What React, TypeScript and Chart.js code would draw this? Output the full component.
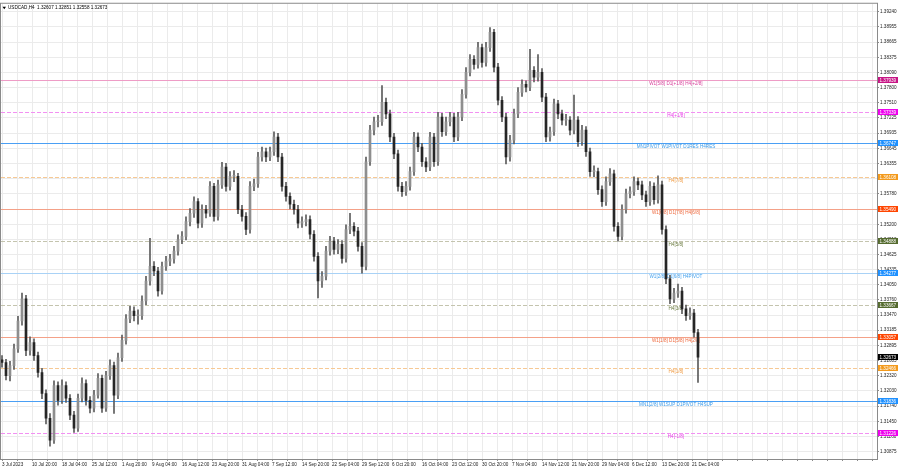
import React, { useEffect, useRef } from "react";
import { Chart, registerables } from "chart.js";

Chart.register(...registerables);

// ---------- DATA (USDCAD, H4; one candle ≈ 4 H4 bars) ----------
const openPrices = [
  1.3262, 1.3257, 1.3232, 1.3251, 1.3283, 1.3336, 1.3378, 1.3280, 1.3295, 1.3270,
  1.3238, 1.3198, 1.3151, 1.3109, 1.3213, 1.3185, 1.3213, 1.3189, 1.3157, 1.3132,
  1.3189, 1.3217, 1.3185, 1.3170, 1.3195, 1.3227, 1.3170, 1.3232, 1.3251, 1.3195,
  1.3266, 1.3299, 1.3340, 1.3355, 1.3346, 1.3346, 1.3374, 1.3412, 1.3440, 1.3431,
  1.3393, 1.3440, 1.3450, 1.3454, 1.3469, 1.3491, 1.3497, 1.3525, 1.3541, 1.3563,
  1.3522, 1.3548, 1.3541, 1.3592, 1.3535, 1.3595, 1.3629, 1.3592, 1.3611, 1.3611,
  1.3548, 1.3535, 1.3510, 1.3592, 1.3597, 1.3648, 1.3658, 1.3648, 1.3658, 1.3686,
  1.3648, 1.3592, 1.3573, 1.3558, 1.3548, 1.3522, 1.3525, 1.3529, 1.3501, 1.3459,
  1.3412, 1.3421, 1.3469, 1.3488, 1.3472, 1.3482, 1.3455, 1.3510, 1.3516, 1.3507,
  1.3478, 1.3440, 1.3639, 1.3699, 1.3715, 1.3715, 1.3752, 1.3730, 1.3686, 1.3654,
  1.3592, 1.3582, 1.3592, 1.3620, 1.3686, 1.3667, 1.3639, 1.3629, 1.3686, 1.3639,
  1.3724, 1.3696, 1.3715, 1.3724, 1.3686, 1.3724, 1.3767, 1.3809, 1.3834, 1.3824,
  1.3856, 1.3828, 1.3856, 1.3885, 1.3819, 1.3756, 1.3724, 1.3648, 1.3680, 1.3730,
  1.3771, 1.3786, 1.3781, 1.3813, 1.3800, 1.3809, 1.3762, 1.3686, 1.3696, 1.3749,
  1.3730, 1.3718, 1.3718, 1.3699, 1.3718, 1.3677, 1.3699, 1.3658, 1.3620, 1.3620,
  1.3586, 1.3563, 1.3601, 1.3616, 1.3516, 1.3497, 1.3548, 1.3578, 1.3582, 1.3601,
  1.3595, 1.3576, 1.3563, 1.3592, 1.3567, 1.3595, 1.3510, 1.3416, 1.3378, 1.3389,
  1.3393, 1.3359, 1.3346, 1.3351, 1.3314,
];

const highPrices = [
  1.3270, 1.3263, 1.3259, 1.3292, 1.3345, 1.3389, 1.3385, 1.3306, 1.3302, 1.3277,
  1.3246, 1.3205, 1.3160, 1.3222, 1.3220, 1.3224, 1.3220, 1.3196, 1.3164, 1.3197,
  1.3228, 1.3224, 1.3192, 1.3204, 1.3236, 1.3233, 1.3240, 1.3262, 1.3258, 1.3275,
  1.3309, 1.3348, 1.3364, 1.3363, 1.3357, 1.3384, 1.3421, 1.3493, 1.3449, 1.3438,
  1.3448, 1.3459, 1.3463, 1.3478, 1.3500, 1.3506, 1.3534, 1.3550, 1.3572, 1.3569,
  1.3557, 1.3556, 1.3601, 1.3598, 1.3604, 1.3638, 1.3636, 1.3620, 1.3622, 1.3617,
  1.3556, 1.3542, 1.3601, 1.3606, 1.3657, 1.3667, 1.3665, 1.3667, 1.3696, 1.3693,
  1.3655, 1.3600, 1.3580, 1.3566, 1.3556, 1.3534, 1.3538, 1.3536, 1.3508, 1.3466,
  1.3430, 1.3478, 1.3497, 1.3495, 1.3491, 1.3489, 1.3519, 1.3541, 1.3523, 1.3514,
  1.3485, 1.3648, 1.3708, 1.3724, 1.3727, 1.3784, 1.3760, 1.3737, 1.3693, 1.3661,
  1.3600, 1.3601, 1.3629, 1.3695, 1.3694, 1.3674, 1.3647, 1.3695, 1.3693, 1.3733,
  1.3731, 1.3724, 1.3733, 1.3731, 1.3733, 1.3776, 1.3818, 1.3843, 1.3841, 1.3866,
  1.3863, 1.3866, 1.3894, 1.3891, 1.3826, 1.3763, 1.3731, 1.3689, 1.3739, 1.3780,
  1.3795, 1.3793, 1.3853, 1.3820, 1.3843, 1.3816, 1.3769, 1.3705, 1.3758, 1.3756,
  1.3737, 1.3729, 1.3725, 1.3766, 1.3725, 1.3708, 1.3706, 1.3665, 1.3631, 1.3627,
  1.3593, 1.3610, 1.3626, 1.3623, 1.3523, 1.3557, 1.3587, 1.3591, 1.3610, 1.3608,
  1.3602, 1.3583, 1.3601, 1.3599, 1.3612, 1.3602, 1.3517, 1.3423, 1.3398, 1.3406,
  1.3400, 1.3366, 1.3361, 1.3358, 1.3320,
];

const lowPrices = [
  1.3248, 1.3224, 1.3222, 1.3244, 1.3276, 1.3328, 1.3270, 1.3271, 1.3261, 1.3229,
  1.3188, 1.3140, 1.3098, 1.3103, 1.3176, 1.3179, 1.3181, 1.3148, 1.3124, 1.3126,
  1.3182, 1.3176, 1.3161, 1.3163, 1.3189, 1.3162, 1.3164, 1.3225, 1.3160, 1.3188,
  1.3259, 1.3292, 1.3333, 1.3336, 1.3330, 1.3339, 1.3367, 1.3404, 1.3422, 1.3383,
  1.3387, 1.3432, 1.3441, 1.3446, 1.3461, 1.3483, 1.3490, 1.3517, 1.3533, 1.3513,
  1.3514, 1.3532, 1.3535, 1.3526, 1.3528, 1.3588, 1.3583, 1.3585, 1.3601, 1.3540,
  1.3526, 1.3500, 1.3503, 1.3584, 1.3590, 1.3640, 1.3639, 1.3641, 1.3651, 1.3639,
  1.3583, 1.3564, 1.3549, 1.3539, 1.3513, 1.3514, 1.3517, 1.3492, 1.3450, 1.3380,
  1.3400, 1.3414, 1.3461, 1.3463, 1.3464, 1.3446, 1.3448, 1.3502, 1.3498, 1.3469,
  1.3427, 1.3433, 1.3632, 1.3690, 1.3705, 1.3708, 1.3721, 1.3677, 1.3645, 1.3583,
  1.3573, 1.3575, 1.3585, 1.3613, 1.3658, 1.3630, 1.3620, 1.3622, 1.3630, 1.3632,
  1.3687, 1.3689, 1.3707, 1.3677, 1.3679, 1.3717, 1.3760, 1.3802, 1.3815, 1.3817,
  1.3819, 1.3821, 1.3849, 1.3810, 1.3747, 1.3715, 1.3635, 1.3640, 1.3673, 1.3723,
  1.3763, 1.3772, 1.3774, 1.3791, 1.3792, 1.3753, 1.3677, 1.3678, 1.3689, 1.3721,
  1.3709, 1.3708, 1.3690, 1.3692, 1.3668, 1.3670, 1.3649, 1.3611, 1.3610, 1.3577,
  1.3554, 1.3556, 1.3594, 1.3507, 1.3488, 1.3490, 1.3541, 1.3570, 1.3575, 1.3586,
  1.3567, 1.3554, 1.3556, 1.3558, 1.3560, 1.3501, 1.3407, 1.3369, 1.3371, 1.3381,
  1.3350, 1.3337, 1.3339, 1.3305, 1.3219,
];

const closePrices = [
  1.3257, 1.3232, 1.3251, 1.3283, 1.3336, 1.3378, 1.3280, 1.3295, 1.3270, 1.3238,
  1.3198, 1.3151, 1.3109, 1.3213, 1.3185, 1.3213, 1.3189, 1.3157, 1.3132, 1.3189,
  1.3217, 1.3185, 1.3170, 1.3195, 1.3227, 1.3170, 1.3232, 1.3251, 1.3195, 1.3266,
  1.3299, 1.3340, 1.3355, 1.3346, 1.3346, 1.3374, 1.3412, 1.3440, 1.3431, 1.3393,
  1.3440, 1.3450, 1.3454, 1.3469, 1.3491, 1.3497, 1.3525, 1.3541, 1.3563, 1.3522,
  1.3548, 1.3541, 1.3592, 1.3535, 1.3595, 1.3629, 1.3592, 1.3611, 1.3611, 1.3548,
  1.3535, 1.3510, 1.3592, 1.3597, 1.3648, 1.3658, 1.3648, 1.3658, 1.3686, 1.3648,
  1.3592, 1.3573, 1.3558, 1.3548, 1.3522, 1.3525, 1.3529, 1.3501, 1.3459, 1.3412,
  1.3421, 1.3469, 1.3488, 1.3472, 1.3482, 1.3455, 1.3510, 1.3516, 1.3507, 1.3478,
  1.3440, 1.3639, 1.3699, 1.3715, 1.3715, 1.3752, 1.3730, 1.3686, 1.3654, 1.3592,
  1.3582, 1.3592, 1.3620, 1.3686, 1.3667, 1.3639, 1.3629, 1.3686, 1.3639, 1.3724,
  1.3696, 1.3715, 1.3724, 1.3686, 1.3724, 1.3767, 1.3809, 1.3834, 1.3824, 1.3856,
  1.3828, 1.3856, 1.3885, 1.3819, 1.3756, 1.3724, 1.3648, 1.3680, 1.3730, 1.3771,
  1.3786, 1.3781, 1.3813, 1.3800, 1.3809, 1.3762, 1.3686, 1.3696, 1.3749, 1.3730,
  1.3718, 1.3718, 1.3699, 1.3718, 1.3677, 1.3699, 1.3658, 1.3620, 1.3620, 1.3586,
  1.3563, 1.3601, 1.3616, 1.3516, 1.3497, 1.3548, 1.3578, 1.3582, 1.3601, 1.3595,
  1.3576, 1.3563, 1.3592, 1.3567, 1.3595, 1.3510, 1.3416, 1.3378, 1.3389, 1.3393,
  1.3359, 1.3346, 1.3351, 1.3314, 1.3267,
];

const dateLabels = [
  "3 Jul 2023", "10 Jul 20:00", "18 Jul 04:00", "25 Jul 12:00", "1 Aug 20:00",
  "9 Aug 04:00", "16 Aug 12:00", "23 Aug 20:00", "31 Aug 04:00", "7 Sep 12:00",
  "14 Sep 20:00", "22 Sep 04:00", "29 Sep 12:00", "6 Oct 20:00", "16 Oct 04:00",
  "23 Oct 12:00", "30 Oct 20:00", "7 Nov 04:00", "14 Nov 12:00", "21 Nov 20:00",
  "29 Nov 04:00", "6 Dec 12:00", "13 Dec 20:00", "21 Dec 04:00",
];

const priceTicks = [
  1.3924, 1.38955, 1.38665, 1.38375, 1.3809, 1.378, 1.3751, 1.37225, 1.36935, 1.36645,
  1.36355, 1.3607, 1.3578, 1.3549, 1.352, 1.3491, 1.34625, 1.34335, 1.3405, 1.3376,
  1.3347, 1.33185, 1.32895, 1.32605, 1.3232, 1.3203, 1.3174, 1.3145, 1.3116, 1.30875,
];

const levelValues = [
  1.37939, 1.37339, 1.36747, 1.36108, 1.3549, 1.34888,
  1.34277, 1.33667, 1.33057, 1.32466, 1.31836, 1.31226,
];
const levelLabels = [
  "W1[5/8] D1[+1/8] H4[+2/8]", "H4[+1/8]", "MN1PIVOT W1PIVOT D1RES H4RES", "H4[7/8]",
  "W1[6/8] D1[7/8] H4[6/8]", "H4[5/8]", "W1[2/8] D1[6/8] H4PIVOT", "H4[3/8]",
  "W1[1/8] D1[5/8] H4[2/8]", "H4[1/8]", "MN1[2/8] W1SUP D1PIVOT H4SUP", "H4[-1/8]",
];
const levelKinds = [
  "pink", "magenta", "blue", "orange", "red", "olive",
  "lightBlue", "olive", "red", "orange", "blue", "magenta",
];

const symbolTitle = "USDCAD,H4  1.32607 1.32851 1.32558 1.32673";
const currentPrice = 1.32673;
const yMin = 1.30734;
const yMax = 1.39395;

// ---------- STYLE ----------
const FAMILY = '"Liberation Sans", Arial, sans-serif';
const FS = 4.6;
const FONT = `${FS}px ${FAMILY}`;

const LEVEL_STYLE: Record<string, { line: string; text: string; box: string; dash: number[] }> = {
  pink: { line: "#ee9cc6", text: "#d8409c", box: "#c71585", dash: [] },
  magenta: { line: "#f290f2", text: "#e83ce8", box: "#ee00ee", dash: [4, 2] },
  blue: { line: "#4a9ff4", text: "#3a9ae8", box: "#1e90ff", dash: [] },
  lightBlue: { line: "#a9d2f6", text: "#45a2ee", box: "#1e90ff", dash: [] },
  orange: { line: "#f7c994", text: "#f09c45", box: "#f39a1c", dash: [4, 2] },
  red: { line: "#f4a188", text: "#ee683c", box: "#ff4500", dash: [] },
  olive: { line: "#c4c4ae", text: "#6c7c42", box: "#556b2f", dash: [4, 2] },
};

const BEAR_FILL = "#262626";
const BULL_FILL = "#8e8e8e";
const WICK = "#5c5c5c";
const PX_PER_CANDLE = 4;

const overlayPlugin = {
  id: "mtOverlay",
  beforeDatasetsDraw(chart: any) {
    const { ctx, chartArea: a, scales } = chart;
    const y = scales.y;
    ctx.save();
    ctx.beginPath();
    ctx.rect(a.left, a.top, a.width, a.height);
    ctx.clip();
    levelValues.forEach((v, k) => {
      const st = LEVEL_STYLE[levelKinds[k]];
      const py = Math.round(y.getPixelForValue(v)) + 0.5;
      ctx.strokeStyle = st.line;
      ctx.lineWidth = 1;
      ctx.setLineDash(st.dash);
      ctx.beginPath();
      ctx.moveTo(a.left, py);
      ctx.lineTo(a.right, py);
      ctx.stroke();
      ctx.setLineDash([]);
      ctx.fillStyle = st.text;
      ctx.font = FONT;
      ctx.textAlign = "center";
      ctx.textBaseline = "middle";
      ctx.fillText(levelLabels[k], a.left + a.width * 0.7705, py + 3);
    });
    ctx.restore();
  },
  afterDraw(chart: any) {
    const { ctx, chartArea: a, scales } = chart;
    const y = scales.y;
    ctx.save();
    // frame
    ctx.strokeStyle = "#8a8a8a";
    ctx.lineWidth = 1;
    ctx.strokeRect(a.left - 0.5, a.top - 0.5, a.width + 1, a.height + 1);
    // price boxes on the axis
    const drawBox = (v: number, fill: string) => {
      const py = Math.round(y.getPixelForValue(v));
      ctx.fillStyle = fill;
      ctx.fillRect(a.right + 1, py - 3, 20, 6);
      ctx.fillStyle = "#ffffff";
      ctx.font = FONT;
      ctx.textAlign = "left";
      ctx.textBaseline = "middle";
      ctx.fillText(v.toFixed(5), a.right + 2.5, py + 0.3);
    };
    levelValues.forEach((v, k) => drawBox(v, LEVEL_STYLE[levelKinds[k]].box));
    drawBox(currentPrice, "#000000");
    // title
    ctx.fillStyle = "#000000";
    ctx.beginPath();
    ctx.moveTo(a.left + 1.5, a.top + 3);
    ctx.lineTo(a.left + 5, a.top + 3);
    ctx.lineTo(a.left + 3.25, a.top + 5.5);
    ctx.closePath();
    ctx.fill();
    ctx.font = FONT;
    ctx.textAlign = "left";
    ctx.textBaseline = "middle";
    ctx.fillText(symbolTitle, a.left + 7, a.top + 4.2);
    ctx.restore();
  },
};

export default function App() {
  const canvasRef = useRef<HTMLCanvasElement | null>(null);

  useEffect(() => {
    document.body.style.margin = "0";
    const canvas = canvasRef.current;
    if (!canvas) return;

    const idx = closePrices.map((_, i) => i);
    const wickData = idx.map((i) => ({ x: i, y: [lowPrices[i], highPrices[i]] }));
    const bodyData = idx.map((i) => ({ x: i, y: [openPrices[i], closePrices[i]] }));
    const bodyFill = idx.map((i) => (closePrices[i] >= openPrices[i] ? BULL_FILL : BEAR_FILL));

    const plotWidth = 876;
    const xMin = -0.25;
    const xMax = xMin + plotWidth / PX_PER_CANDLE;
    const labelStep = 30 / PX_PER_CANDLE;

    const chart = new Chart(canvas, {
      type: "bar",
      data: {
        datasets: [
          {
            data: wickData as any,
            backgroundColor: WICK,
            barThickness: 1,
            grouped: false,
            order: 2,
          } as any,
          {
            data: bodyData as any,
            backgroundColor: bodyFill,
            borderWidth: 0,
            barThickness: 2,
            minBarLength: 1,
            grouped: false,
            order: 1,
          } as any,
        ],
      },
      options: {
        responsive: false,
        maintainAspectRatio: false,
        animation: false,
        events: [],
        layout: { padding: { left: 1, top: 1, right: 0, bottom: 0 } },
        plugins: { legend: { display: false }, tooltip: { enabled: false } },
        scales: {
          x: {
            type: "linear",
            min: xMin,
            max: xMax,
            offset: false,
            afterBuildTicks: (scale: any) => {
              const t: any[] = [];
              for (let k = 0; (k * labelStep) / 2 <= xMax; k++) t.push({ value: (k * labelStep) / 2 });
              scale.ticks = t;
            },
            afterFit: (scale: any) => {
              scale.height = 9;
            },
            grid: { color: "#ebebeb", tickColor: "#8a8a8a", tickLength: 2, offset: false },
            border: { display: true, color: "#8a8a8a" },
            ticks: {
              autoSkip: false,
              maxRotation: 0,
              minRotation: 0,
              align: "start",
              padding: 0.5,
              color: "#222222",
              font: { family: FAMILY, size: FS },
              callback: (_v: any, i: number) => (i % 2 === 0 && i / 2 < dateLabels.length ? dateLabels[i / 2] : ""),
            },
          },
          y: {
            type: "linear",
            position: "right",
            min: yMin,
            max: yMax,
            afterBuildTicks: (scale: any) => {
              scale.ticks = priceTicks.map((v) => ({ value: v }));
            },
            afterFit: (scale: any) => {
              scale.width = 23;
            },
            grid: { color: "#ebebeb", tickColor: "#8a8a8a", tickLength: 2 },
            border: { display: true, color: "#8a8a8a" },
            ticks: {
              autoSkip: false,
              padding: 1,
              color: "#222222",
              font: { family: FAMILY, size: FS },
              callback: (v: any) => Number(v).toFixed(5),
            },
          },
        },
      } as any,
      plugins: [overlayPlugin],
    });

    return () => chart.destroy();
  }, []);

  return (
    <div style={{ position: "absolute", left: 0, top: 0, width: 900, height: 468, background: "#ffffff" }}>
      <canvas ref={canvasRef} width={900} height={468} style={{ display: "block" }} />
    </div>
  );
}
